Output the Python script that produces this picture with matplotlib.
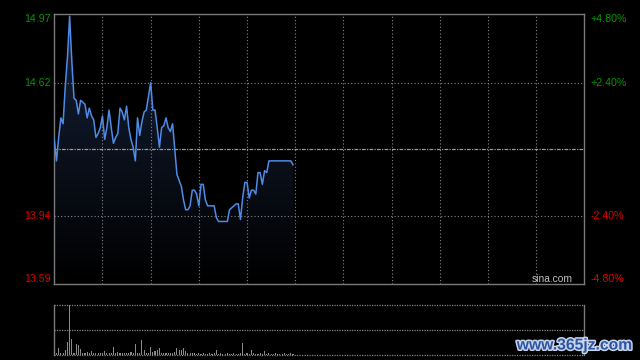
import matplotlib
matplotlib.use("Agg")
import matplotlib.pyplot as plt
import matplotlib.patheffects as pe
from matplotlib.colors import LinearSegmentedColormap
from matplotlib.patches import PathPatch
import numpy as np

# intraday minute prices (first ~110 minutes of the session)
prices = [14.33, 14.22, 14.34, 14.44, 14.41, 14.60, 14.75, 14.96, 14.73, 14.54,
          14.53, 14.46, 14.53, 14.52, 14.51, 14.44, 14.49, 14.45, 14.43, 14.34,
          14.36, 14.39, 14.45, 14.33, 14.39, 14.48, 14.39, 14.31, 14.34, 14.36,
          14.49, 14.47, 14.43, 14.50, 14.39, 14.33, 14.29, 14.22, 14.44, 14.35,
          14.42, 14.47, 14.48, 14.55, 14.62, 14.48, 14.48, 14.39, 14.29, 14.39,
          14.40, 14.44, 14.39, 14.37, 14.41, 14.28, 14.15, 14.12, 14.09, 14.02,
          13.97, 13.97, 13.99, 14.07, 14.07, 14.05, 13.99, 14.10, 14.10, 14.02,
          13.99, 13.99, 13.99, 13.99, 13.93, 13.91, 13.91, 13.91, 13.91, 13.91,
          13.97, 13.98, 13.99, 14.00, 14.00, 13.92, 14.03, 14.11, 14.11, 14.03,
          14.07, 14.07, 14.05, 14.16, 14.16, 14.10, 14.17, 14.16, 14.22, 14.22,
          14.22, 14.22, 14.22, 14.22, 14.22, 14.22, 14.22, 14.22, 14.22, 14.20]

volumes = [10, 4, 19, 4, 5, 14, 37, 150, 47, 4,
           32, 29, 16, 4, 4, 8, 4, 11, 4, 6,
           4, 6, 4, 11, 6, 4, 4, 23, 4, 9,
           4, 4, 4, 4, 6, 8, 4, 32, 4, 6,
           44, 14, 4, 6, 23, 9, 12, 14, 20, 6,
           4, 4, 4, 4, 4, 9, 19, 14, 14, 20,
           11, 4, 6, 4, 4, 3, 4, 3, 4, 3,
           3, 4, 3, 4, 14, 3, 4, 3, 3, 4,
           3, 3, 4, 3, 3, 4, 35, 3, 4, 3,
           14, 4, 3, 3, 4, 3, 11, 3, 4, 3,
           3, 4, 3, 3, 3, 4, 3, 3, 4, 3]

prev_close = 14.28
price_ticks = [14.97, 14.62, 13.94, 13.59]
pct_labels = ["+4.80%", "+2.40%", "-2.40%", "-4.80%"]
tick_colors = ["#009900", "#009900", "#dd0000", "#dd0000"]
total_minutes = 242

W, H = 640, 360
fig = plt.figure(figsize=(W / 100, H / 100), dpi=100, facecolor="black")
plt.rcParams["font.family"] = ["Liberation Sans", "DejaVu Sans"]

frame_col = "#7a7a7a"
grid_col = "#858585"

# main price panel
ax = fig.add_axes([54.3 / W, 1 - 284 / H, 530 / W, 269.7 / H], facecolor="black")
x = np.arange(len(prices))
lo, hi = price_ticks[-1], price_ticks[0]

poly = ax.fill_between(x, prices, lo, color="none", lw=0)
clip = PathPatch(poly.get_paths()[0], transform=ax.transData,
                 facecolor="none", edgecolor="none")
ax.add_patch(clip)
cmap = LinearSegmentedColormap.from_list("fade", ["#000000", "#16223a"])
grad = np.linspace(0, 1, 256).reshape(-1, 1)
im = ax.imshow(grad, extent=[0, total_minutes, lo, hi], origin="lower",
               aspect="auto", cmap=cmap, zorder=1)
im.set_clip_path(clip)
ax.plot(x, prices, color="#4f8ae6", lw=1.1, zorder=3)

ax.set_xlim(0, total_minutes)
ax.set_ylim(lo, hi)
for k in range(1, 11):
    ax.axvline(k * 22, color=grid_col, lw=0.8, ls=(0, (1, 2)), zorder=2)
for p in price_ticks[1:3]:
    ax.axhline(p, color=grid_col, lw=0.8, ls=(0, (1, 2)), zorder=2)
ax.axhline(prev_close, color="#9a9a9a", lw=0.9, ls=(0, (3, 1, 1, 1)), zorder=2)
ax.set_xticks([])
ax.set_yticks([])
for s in ax.spines.values():
    s.set_color(frame_col)
    s.set_linewidth(1.0)

vas = ["top", "center", "center", "bottom"]
for p, lab, c, va in zip(price_ticks, pct_labels, tick_colors, vas):
    ax.text(-0.006, p, f"{p:.2f}", transform=ax.get_yaxis_transform(),
            ha="right", va=va, color=c, fontsize=7.7)
    ax.text(1.011, p, lab, transform=ax.get_yaxis_transform(),
            ha="left", va=va, color=c, fontsize=7.7)

ax.text(0.979, 0.008, "sina.com", transform=ax.transAxes, ha="right", va="baseline",
        color="#c0c0c0", fontsize=7.4, zorder=4)

# volume panel
axv = fig.add_axes([54.3 / W, 1 - 354.7 / H, 530 / W, 50 / H], facecolor="black")
axv.bar(x, volumes, width=0.5, color="#8a8a8a", zorder=3)
axv.set_xlim(0, total_minutes)
axv.set_ylim(0, 150)
for yv in (0, 75, 150):
    axv.axhline(yv, color=grid_col, lw=0.9, ls=(0, (1, 1)), zorder=2, clip_on=False)
axv.set_xticks([])
axv.set_yticks([])
for side in ("top", "bottom"):
    axv.spines[side].set_visible(False)
for side in ("left", "right"):
    axv.spines[side].set_color(frame_col)
    axv.spines[side].set_linewidth(1.0)

fig.text(575 / W, 1 - 345 / H, "www.365jz.com", ha="center", va="center",
         color="#2d55a5", fontsize=11.3, fontweight="bold",
         path_effects=[pe.withStroke(linewidth=2.2, foreground="#c8d4ea")])

fig.savefig("out.png", dpi=100, facecolor="black")
